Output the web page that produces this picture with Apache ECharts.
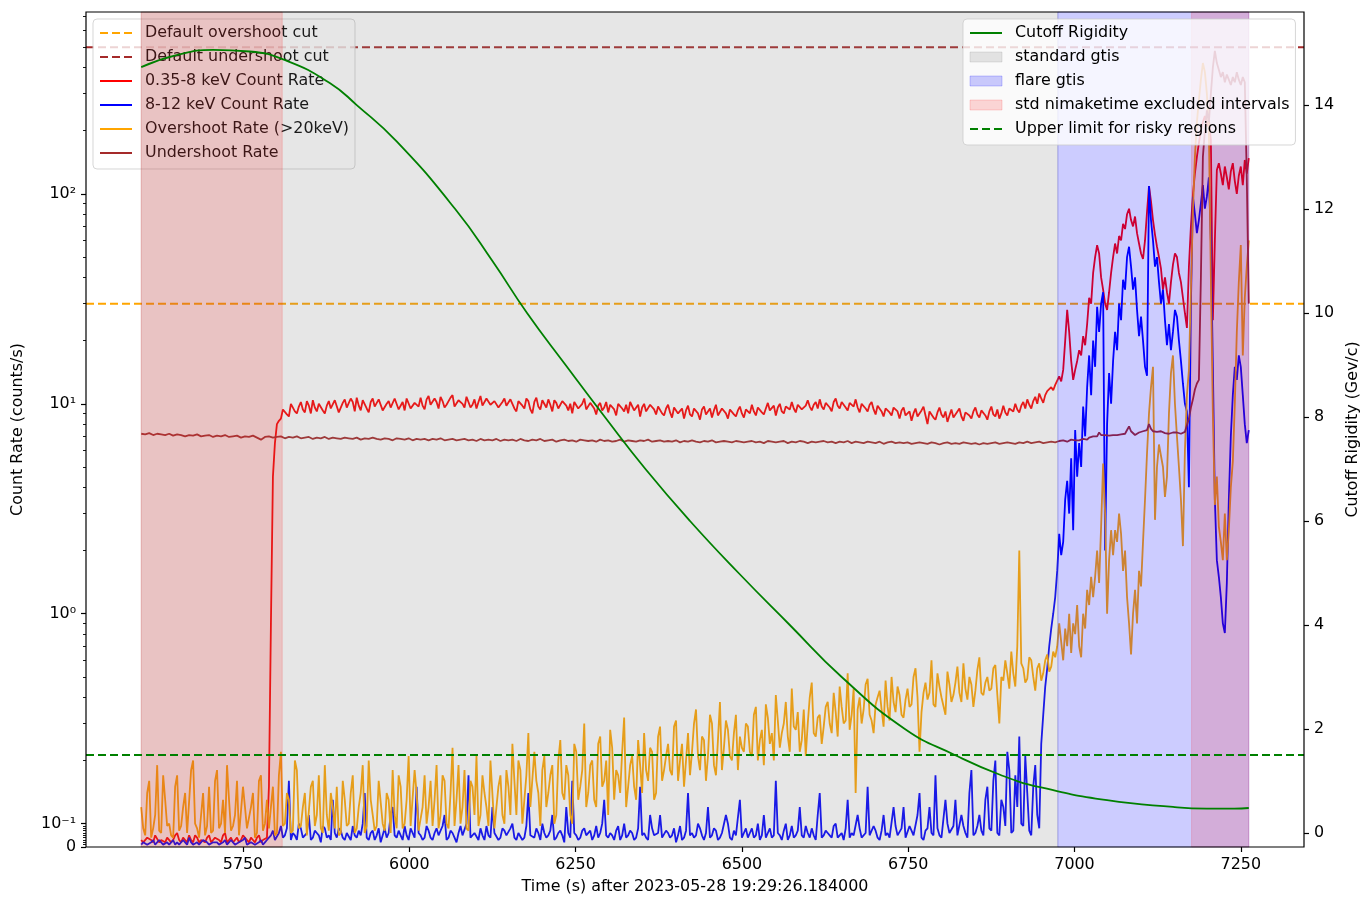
<!DOCTYPE html>
<html>
<head>
<meta charset="utf-8">
<script src="https://cdn.jsdelivr.net/npm/echarts@6/dist/echarts.min.js"></script>
<style>
  html, body { margin: 0; padding: 0; background: #ffffff; }
  #chart { width: 1361px; height: 897px; }
</style>
</head>
<body>
<div id="chart"></div>
<script>
// ---- time grids (seconds after 2023-05-28 19:29:26.184) ----
// quiet stretch: 6 s bins starting at QUIET_T0; the "B" arrays are the bins in between (offset 3 s)
const QUIET_T0 = 5597, QUIET_DT = 6, QUIET_OFFSET = 3;
// flare stretch: 3 s bins
const FLARE_T0 = 6974, FLARE_DT = 3;

// ---- 0.35-8 keV count rate (counts/s) ----
const redQuiet = [
  0.03,0.02,0.04,0.02,0.05,0.03,0.02,0.04,0.03,0.06,0.02,0.03,0.05,0.02,0.04,0.03,0.02,0.05,0.03,0.04,0.02,0.06,0.03,0.02,0.04,0.03,0.05,0.02,0.03,0.04,0.02,0.03,
  0.15,4.5,8.0,
  8.5,9.6,8.7,9.9,9.0,10.2,9.1,9.8,10.4,9.2,10.1,9.0,10.3,9.3,10.2,
  9.3,10.5,9.4,10.2,10.7,9.3,10.3,9.1,10.6,9.5,10.4,9.2,10.3,9.4,10.8,9.6,9.3,10.5,9.5,10.3,
  10.7,9.4,10.9,9.7,10.2,10.8,9.6,10.0,11.0,9.8,10.5,9.6,10.8,9.9,9.5,10.9,9.8,10.5,9.7,10.4,
  9.4,10.6,9.6,10.4,9.2,10.5,9.5,10.3,9.0,10.7,9.4,10.2,10.5,9.2,10.1,9.6,10.4,9.3,9.0,10.3,
  9.3,10.6,9.2,10.2,8.9,10.1,9.6,9.1,10.0,8.8,10.2,9.2,9.0,10.1,9.3,8.7,10.0,9.1,10.1,8.9,
  9.8,8.8,9.9,8.6,9.7,8.9,8.5,9.8,8.7,9.6,8.4,9.7,8.8,8.6,9.9,8.7,9.6,8.5,9.5,8.7,
  9.7,8.6,9.6,9.9,8.8,9.8,8.9,10.1,9.1,8.8,10.0,9.0,9.9,10.2,9.1,10.1,9.2,10.4,9.3,10.2,
  10.5,9.4,10.3,9.2,10.6,9.5,10.4,9.3,10.2,10.5,9.1,10.1,9.2,10.2,8.9,9.9,8.7,9.7,8.8,9.8,
  8.5,9.6,8.7,8.3,9.5,8.6,9.7,8.0,9.3,8.4,9.6,8.6,8.2,9.4,8.5,9.5,8.3,9.3,8.5,9.6,
  8.6,9.5,8.4,9.7,8.7,8.5,9.8,8.8,9.6,10.0,9.1,10.2,10.5,9.5,10.8,11.2,10.1,11.5,12.0,12.3
];
const redQuietB = [
  0.02,0.04,0.03,0.05,0.02,0.03,0.04,0.02,0.05,0.03,0.04,0.02,0.03,0.05,0.02,0.03,0.04,0.02,0.04,0.03,0.05,0.02,0.04,0.03,0.02,0.05,0.03,0.04,0.02,0.05,0.03,0.04,
  0.9,6.5,8.3,
  9.4,8.9,10.0,9.2,9.7,9.4,10.3,9.0,9.6,10.0,9.3,9.8,9.5,10.4,9.1,
  10.1,9.6,10.6,9.2,9.8,10.4,9.5,10.2,9.7,10.5,9.3,10.0,9.6,10.6,9.4,10.2,10.6,9.5,10.1,9.7,
  9.8,10.5,9.9,10.6,9.5,10.3,9.9,10.7,9.7,10.4,10.0,10.8,9.6,10.5,10.2,9.8,10.6,9.9,10.3,9.6,
  10.2,9.8,10.5,9.5,10.3,9.8,10.6,9.4,10.2,9.7,10.4,9.6,9.9,10.4,9.5,10.3,9.8,10.0,10.2,9.5,
  10.0,9.4,10.1,9.5,9.8,9.3,10.2,9.9,9.4,10.0,9.5,9.9,10.2,9.3,9.9,9.6,9.2,9.9,9.4,9.7,
  9.0,9.5,9.1,9.6,9.0,9.5,9.3,8.9,9.5,9.0,9.4,8.9,9.5,9.3,8.8,9.5,9.0,9.4,8.9,9.3,
  9.0,9.4,9.0,9.2,9.6,9.1,9.5,9.3,9.8,9.6,9.2,9.7,9.4,9.5,9.9,9.4,9.8,9.7,9.9,9.5,
  9.7,10.1,9.6,10.2,9.8,10.2,9.6,10.1,9.7,9.6,10.0,9.5,9.9,9.4,9.8,9.2,9.5,9.1,9.6,9.2,
  9.3,8.8,9.2,9.0,8.7,9.3,8.8,9.2,8.6,9.1,8.9,9.2,8.8,8.6,9.2,8.7,9.1,8.8,9.2,8.9,
  9.3,8.8,9.2,8.9,9.4,9.0,9.1,9.5,9.2,9.4,9.8,9.5,9.9,10.3,10.0,10.6,11.0,11.3,11.6
];
const redFlare = [
  12.5,13.5,12.8,14.5,20,28,22,16,13,14.5,
  16,18,17,21,19,24,32,30,42,50,
  57,52,40,35,30,28,34,42,50,58,
  52,63,60,72,68,80,85,75,70,78,
  65,58,52,49,60,82,109,92,75,64,
  56,50,44,35,40,34,30,38,46,52,
  50,42,38,32,27,23,45,70,99,125,
  150,175,200,220,235,210,225,180,25,60,
  130,140,125,110,135,120,105,128,140,115,
  100,122,135,110,145,125,148
];

// ---- 8-12 keV count rate (counts/s) ----
const blueQuiet = [
  0.01,0.02,0.01,0.03,0.01,0.02,0.01,0.01,0.03,0.02,0.01,0.02,0.04,0.01,0.02,0.01,0.03,0.01,0.02,0.02,0.01,0.03,0.01,0.02,0.01,0.02,0.04,0.01,0.02,0.01,0.03,0.02,
  0.04,0.07,0.03,0.09,0.05,0.16,0.06,0.03,0.08,0.05,0.11,0.04,0.06,0.02,0.08,0.05,0.13,0.04,0.07,0.03,
  0.06,0.09,0.04,0.05,0.14,0.03,0.07,0.05,0.02,0.08,0.06,0.12,0.04,0.05,0.09,0.03,0.06,0.15,0.05,0.04,
  0.07,0.03,0.08,0.05,0.11,0.04,0.06,0.02,0.09,0.05,0.17,0.04,0.06,0.08,0.03,0.05,0.12,0.06,0.04,0.07,
  0.05,0.1,0.03,0.06,0.04,0.14,0.05,0.08,0.03,0.06,0.05,0.11,0.04,0.07,0.02,0.06,0.16,0.05,0.04,0.08,
  0.05,0.03,0.09,0.06,0.13,0.04,0.05,0.07,0.03,0.1,0.05,0.06,0.04,0.15,0.06,0.03,0.08,0.05,0.11,0.04,
  0.06,0.05,0.02,0.09,0.04,0.14,0.06,0.05,0.08,0.03,0.12,0.05,0.07,0.04,0.06,0.1,0.03,0.05,0.13,0.06,
  0.04,0.08,0.05,0.03,0.11,0.06,0.04,0.16,0.05,0.07,0.03,0.09,0.05,0.12,0.04,0.06,0.08,0.03,0.14,0.05,
  0.06,0.04,0.1,0.05,0.03,0.13,0.06,0.05,0.08,0.04,0.15,0.05,0.07,0.03,0.11,0.06,0.04,0.09,0.05,0.12,
  0.04,0.07,0.05,0.14,0.03,0.08,0.06,0.17,0.05,0.04,0.1,0.06,0.13,0.05,0.09,0.04,0.18,0.06,0.11,0.05,
  0.15,0.07,0.2,0.05,0.12,0.22,0.06,0.17,0.26,0.09,0.14,0.05,0.19,0.08,0.33,0.55,0.85,1.2
];
const blueQuietB = [
  0.02,0.01,0.02,0.01,0.03,0.01,0.02,0.02,0.01,0.01,0.03,0.01,0.02,0.01,0.01,0.03,0.02,0.01,0.02,0.01,0.02,0.01,0.03,0.01,0.02,0.03,0.01,0.02,0.01,0.02,0.01,0.03,
  0.05,0.03,0.06,0.04,0.08,0.03,0.05,0.1,0.04,0.06,0.03,0.07,0.05,0.09,0.04,0.03,0.06,0.08,0.04,0.06,
  0.03,0.05,0.07,0.1,0.04,0.06,0.03,0.08,0.05,0.04,0.11,0.05,0.07,0.03,0.05,0.08,0.04,0.06,0.03,0.09,
  0.04,0.06,0.05,0.09,0.03,0.07,0.04,0.06,0.05,0.1,0.04,0.06,0.03,0.05,0.09,0.04,0.06,0.03,0.08,0.05,
  0.08,0.04,0.06,0.03,0.09,0.05,0.04,0.06,0.1,0.04,0.07,0.03,0.06,0.05,0.12,0.04,0.06,0.03,0.07,0.05,
  0.07,0.05,0.04,0.1,0.05,0.06,0.03,0.09,0.05,0.04,0.07,0.03,0.08,0.05,0.04,0.11,0.05,0.06,0.04,0.07,
  0.04,0.08,0.05,0.03,0.07,0.05,0.04,0.1,0.05,0.06,0.04,0.08,0.03,0.06,0.11,0.04,0.07,0.05,0.04,0.08,
  0.06,0.04,0.1,0.05,0.04,0.08,0.05,0.06,0.03,0.1,0.05,0.04,0.07,0.05,0.09,0.04,0.05,0.11,0.04,0.07,
  0.05,0.09,0.04,0.06,0.08,0.04,0.05,0.11,0.04,0.06,0.05,0.09,0.04,0.07,0.05,0.04,0.12,0.05,0.08,0.04,
  0.09,0.05,0.11,0.04,0.07,0.12,0.05,0.08,0.04,0.13,0.06,0.09,0.05,0.11,0.06,0.14,0.05,0.09,0.07,0.13,
  0.08,0.16,0.06,0.13,0.09,0.18,0.07,0.12,0.1,0.21,0.07,0.15,0.11,0.24,0.45,0.7,1.0
];
const blueFlare = [
  1.6,2.4,1.9,2.2,3.5,4.3,3.0,5.5,2.5,7.5,
  4.5,6.5,5.0,9.7,7.0,12,17,11,20,15,
  29,22,30,34,2.0,8,14,10,16,22,
  18,30,25,39,35,50,56,45,35,40,
  28,21,26,20,15,13.6,109,75,60,45,
  50,38,30,35,25,19,24,18,22,28,
  26,20,16,12.5,10,9.2,4,30,97,80,
  65,75,90,110,85,97,120,60,15,3.5,
  1.8,1.5,1.2,0.9,0.81,1.4,3.5,7,11,15,
  13,17,15,11,8,6.5,7.5
];

// ---- overshoot rate >20 keV (counts/s) ----
const orangeQuiet = [
  0.12,0.05,0.16,0.08,0.19,0.06,0.13,0.1,0.04,0.17,0.09,0.14,0.06,0.2,0.08,0.11,0.05,0.15,0.07,0.18,0.1,0.06,0.13,0.09,0.16,0.05,0.12,0.08,0.14,0.06,0.17,0.1,
  0.08,0.15,0.06,0.22,0.1,0.13,0.07,0.18,0.09,0.14,0.05,0.16,0.11,0.08,0.19,0.07,0.12,0.15,0.06,0.13,
  0.1,0.17,0.08,0.14,0.06,0.2,0.11,0.09,0.16,0.07,0.13,0.18,0.08,0.15,0.1,0.21,0.09,0.14,0.07,0.17,
  0.12,0.09,0.19,0.11,0.16,0.08,0.23,0.13,0.1,0.18,0.07,0.15,0.21,0.11,0.14,0.09,0.2,0.12,0.17,0.1,
  0.15,0.24,0.11,0.18,0.13,0.27,0.12,0.16,0.09,0.21,0.14,0.19,0.11,0.25,0.13,0.17,0.1,0.22,0.15,0.3,
  0.14,0.2,0.12,0.26,0.16,0.11,0.23,0.18,0.14,0.32,0.15,0.21,0.13,0.19,0.27,0.16,0.22,0.14,0.29,0.18,
  0.24,0.17,0.31,0.2,0.15,0.27,0.22,0.35,0.18,0.25,0.21,0.3,0.17,0.38,0.23,0.28,0.2,0.33,0.26,0.22,
  0.29,0.21,0.36,0.25,0.19,0.32,0.27,0.41,0.23,0.3,0.26,0.44,0.28,0.22,0.35,0.3,0.47,0.26,0.33,0.29,
  0.38,0.27,0.34,0.45,0.3,0.52,0.33,0.14,0.4,0.35,0.49,0.31,0.37,0.43,0.29,0.36,0.5,0.34,0.41,0.32,
  0.44,0.37,0.55,0.22,0.42,0.39,0.6,0.36,0.45,0.4,0.53,0.38,0.47,0.42,0.58,0.39,0.46,0.43,0.62,0.41,
  0.5,0.44,0.57,0.3,0.48,0.52,0.66,0.45,2.0,0.55,0.49,0.6,0.43,0.58,0.52,0.64,0.56,0.62
];
const orangeQuietB = [
  0.08,0.14,0.04,0.11,0.07,0.17,0.09,0.05,0.15,0.07,0.12,0.06,0.18,0.1,0.04,0.14,0.09,0.06,0.16,0.08,0.13,0.19,0.07,0.11,0.05,0.15,0.08,0.12,0.04,0.16,0.07,0.13,
  0.12,0.05,0.17,0.09,0.14,0.06,0.2,0.08,0.12,0.05,0.15,0.09,0.17,0.06,0.11,0.14,0.08,0.05,0.16,0.09,
  0.14,0.06,0.12,0.19,0.09,0.13,0.07,0.16,0.1,0.14,0.06,0.11,0.17,0.08,0.13,0.09,0.18,0.07,0.12,0.1,
  0.16,0.13,0.08,0.17,0.1,0.14,0.09,0.19,0.12,0.08,0.16,0.11,0.09,0.17,0.12,0.2,0.08,0.15,0.11,0.18,
  0.11,0.16,0.2,0.1,0.17,0.12,0.22,0.14,0.18,0.12,0.17,0.1,0.2,0.14,0.19,0.11,0.24,0.13,0.18,0.12,
  0.19,0.13,0.24,0.15,0.2,0.28,0.13,0.17,0.22,0.12,0.19,0.15,0.25,0.14,0.18,0.23,0.13,0.26,0.16,0.21,
  0.18,0.29,0.16,0.24,0.2,0.17,0.3,0.21,0.26,0.16,0.33,0.19,0.25,0.18,0.31,0.21,0.27,0.18,0.23,0.3,
  0.22,0.33,0.2,0.28,0.37,0.24,0.2,0.31,0.27,0.38,0.22,0.29,0.34,0.25,0.21,0.4,0.27,0.32,0.24,0.36,
  0.3,0.42,0.26,0.36,0.31,0.28,0.44,0.35,0.3,0.46,0.33,0.27,0.4,0.35,0.48,0.31,0.38,0.45,0.33,0.39,
  0.36,0.5,0.4,0.34,0.47,0.42,0.37,0.52,0.4,0.33,0.46,0.41,0.56,0.38,0.44,0.5,0.36,0.54,0.42,0.47,
  0.43,0.55,0.41,0.5,0.6,0.44,0.52,0.7,0.58,0.47,0.62,0.5,0.55,0.48,0.6,0.53,0.66
];
const orangeFlare = [
  0.7,0.9,0.91,0.6,0.85,0.7,1.0,0.65,0.9,0.8,
  1.1,0.7,0.62,1.0,0.85,1.3,1.1,1.5,1.2,1.5,
  2.0,1.4,2.6,5.2,3.0,1.0,1.8,2.5,1.9,2.5,
  2.2,3.0,2.4,1.6,2.0,1.2,0.9,0.64,1.0,1.3,
  0.9,1.6,1.35,2.2,3.5,5.8,9,12,15,2.8,
  5,6.4,6.4,5,3.6,4.5,9,14,17,10,
  7,5,3.5,2.1,6,11,14.5,35,83,150,
  220,280,350,420,380,300,200,40,9,3.3,
  4.5,2.6,2.2,1.8,3.0,1.8,2.5,4.0,5.3,10,
  22,38,57,17,32,45,60
];

// ---- undershoot rate (counts/s) ----
const brownQuiet = [
  7.2,7.15,7.25,7.1,7.2,7.15,7.1,7.2,7.05,7.15,7.1,7.0,7.1,7.05,7.15,7.0,7.05,7.1,6.95,7.05,7.0,7.1,6.95,7.0,7.05,6.9,7.0,6.95,7.05,6.9,6.75,6.95,
  7.0,6.9,6.95,7.0,6.85,6.95,6.9,7.0,6.85,6.9,6.95,6.8,6.9,6.85,6.95,6.8,6.9,6.85,6.8,6.9,
  6.85,6.8,6.9,6.75,6.85,6.8,6.9,6.8,6.75,6.85,6.8,6.7,6.85,6.8,6.75,6.85,6.7,6.8,6.75,6.8,
  6.7,6.8,6.75,6.85,6.7,6.75,6.8,6.7,6.75,6.8,6.7,6.75,6.65,6.8,6.7,6.75,6.7,6.8,6.65,6.75,
  6.7,6.75,6.65,6.8,6.7,6.65,6.75,6.7,6.8,6.65,6.7,6.75,6.6,6.7,6.75,6.65,6.7,6.6,6.75,6.7,
  6.65,6.7,6.6,6.75,6.65,6.7,6.6,6.65,6.75,6.6,6.7,6.65,6.6,6.7,6.65,6.75,6.6,6.65,6.7,6.6,
  6.65,6.6,6.7,6.55,6.65,6.6,6.7,6.6,6.55,6.65,6.6,6.7,6.55,6.6,6.65,6.6,6.55,6.65,6.6,6.55,
  6.6,6.65,6.55,6.6,6.5,6.65,6.6,6.55,6.6,6.65,6.5,6.6,6.55,6.65,6.6,6.5,6.6,6.55,6.6,6.65,
  6.55,6.6,6.5,6.6,6.55,6.65,6.5,6.6,6.55,6.5,6.6,6.55,6.5,6.6,6.45,6.55,6.6,6.5,6.55,6.5,
  6.55,6.45,6.5,6.55,6.5,6.45,6.55,6.5,6.4,6.5,6.55,6.45,6.5,6.45,6.55,6.5,6.45,6.5,6.4,6.5,
  6.45,6.5,6.55,6.45,6.5,6.55,6.5,6.45,6.55,6.5,6.6,6.5,6.55,6.6,6.5,6.55,6.6,6.55
];
const brownFlare = [
  6.6,6.65,6.6,6.7,6.65,6.6,6.7,6.75,6.65,6.7,
  6.8,6.7,6.75,6.8,6.85,6.75,6.9,6.8,7.0,6.9,
  7.0,7.3,7.1,7.0,7.1,7.0,7.05,7.15,7.1,7.2,
  7.1,7.25,7.15,7.3,7.2,7.5,7.8,7.4,7.3,7.1,
  7.2,7.3,7.25,7.4,7.3,7.5,8.0,7.6,7.4,7.5,
  7.35,7.3,7.4,7.3,7.25,7.3,7.2,7.25,7.3,7.2,
  7.3,7.25,7.2,7.3,7.35,7.5,8.5,9.6,10.5,11.7,
  12.5,13,40,150,200,250,220,300,400,480,
  420,390,360,380,340,370,350,330,360,340,
  380,350,330,360,340,120,30
];

// ---- cutoff rigidity (GeV/c) ----
const rigidityTime  = [5597, 5650, 5705, 5760, 5816, 5881, 5921, 5981, 6069, 6125, 6177, 6235, 6294, 6355, 6422, 6495, 6572, 6650, 6745, 6820, 6888, 6948, 7049, 7148, 7199, 7240, 7262];
const rigidityValue = [14.73, 14.96, 15.06, 15.03, 14.85, 14.42, 14.0, 13.3, 12.0, 11.0, 10.0, 9.0, 8.0, 7.0, 6.0, 5.0, 4.0, 3.0, 2.0, 1.5, 1.12, 0.88, 0.63, 0.5, 0.47, 0.47, 0.48];

// ---- thresholds ----
const OVERSHOOT_CUT = 30;
const UNDERSHOOT_CUT = 500;
const RISKY_LIMIT = 1.5;

// ---- time intervals ----
const standardGti = [[5597, 6975]];
const flareGti = [[6975, 7262]];
const excludedIntervals = [[5597, 5809], [7176, 7262]];

// ---- axes ----
const X_MIN = 5514, X_MAX = 7345;
const X_TICKS = [5750, 6000, 6250, 6500, 6750, 7000, 7250];
const COUNT_MAX = 735;
const Y_TICKS = [0, 0.1, 1, 10, 100];
const Y_TICK_LABELS = ['0', '10\u207B\u00B9', '10\u2070', '10\u00B9', '10\u00B2'];
const Y_MINOR = [0.01, 0.02, 0.03, 0.04, 0.05, 0.06, 0.07, 0.08, 0.09,
                 0.2, 0.3, 0.4, 0.5, 0.6, 0.7, 0.8, 0.9,
                 2, 3, 4, 5, 6, 7, 8, 9,
                 20, 30, 40, 50, 60, 70, 80, 90,
                 200, 300, 400, 500, 600, 700];
const RIG_MIN = -0.27, RIG_MAX = 15.79;
const RIG_TICKS = [0, 2, 4, 6, 8, 10, 12, 14];

// symmetric-log mapping: linear below 0.1, logarithmic above (linscale 0.1)
const LIN_THRESH = 0.1;
const LIN_SPAN = 0.1 / (1 - 1 / 10);
function symlog(v) {
  return v <= LIN_THRESH ? (v / LIN_THRESH) * LIN_SPAN : LIN_SPAN + Math.log10(v / LIN_THRESH);
}

// assemble [time, value] pairs: quiet bins (with optional in-between bins), then flare bins
function rateSeries(quiet, quietB, flare) {
  const pts = [];
  quiet.forEach((v, i) => {
    pts.push([QUIET_T0 + i * QUIET_DT, v]);
    if (quietB && i < quietB.length) pts.push([QUIET_T0 + QUIET_OFFSET + i * QUIET_DT, quietB[i]]);
  });
  flare.forEach((v, j) => pts.push([FLARE_T0 + j * FLARE_DT, v]));
  return pts.map(([t, v]) => [t, symlog(v)]);
}

const FONT = 'DejaVu Sans';
const FS = 15.9;
const Y_TICK_POS = Y_TICKS.map(symlog);

const GRAY = 'rgba(128,128,128,0.2)';
const BLUE = 'rgba(0,0,255,0.2)';
const PINK = 'rgba(255,0,0,0.15)';

function lineSeries(name, data, color, z, yAxisIndex, dashed) {
  return {
    name, type: 'line', data, yAxisIndex,
    symbol: 'none', showSymbol: false, silent: true, z,
    color,
    lineStyle: { color, width: dashed ? 2 : 1.8, type: dashed ? [8, 4] : 'solid' },
    itemStyle: { color },
    emphasis: { disabled: true }
  };
}
function spanSeries(name, intervals, color) {
  return {
    name, type: 'line', data: [], yAxisIndex: 1, silent: true, color,
    itemStyle: { color },
    markArea: {
      silent: true, z: 4,
      itemStyle: { color, borderColor: color, borderWidth: 1 },
      data: intervals.map(([a, b]) => [{ xAxis: a }, { xAxis: b }])
    }
  };
}

const legendCommon = {
  orient: 'vertical',
  selectedMode: false,
  itemWidth: 32, itemHeight: 10, itemGap: 8,
  padding: [6, 6, 8, 6],
  backgroundColor: 'rgba(255,255,255,0.8)',
  borderColor: 'rgba(204,204,204,0.8)',
  borderWidth: 1,
  borderRadius: 4,
  textStyle: { fontFamily: FONT, fontSize: FS, color: '#000', lineHeight: 16, padding: [0, 0, 0, 8] }
};
const lineItem = name => ({ name, itemStyle: { opacity: 0 } });
const patchItem = (name, color) => ({ name, icon: 'rect', itemStyle: { color, borderColor: color, borderWidth: 1, opacity: 1 } });

const axisText = { fontFamily: FONT, fontSize: FS, color: '#000' };
const majorTick = values => ({ show: true, length: 5, lineStyle: { color: '#000', width: 1.2 }, customValues: values });

const option = {
  animation: false,
  backgroundColor: '#ffffff',
  textStyle: { fontFamily: FONT, color: '#000' },
  grid: {
    left: 86, right: 57, top: 12, bottom: 50,
    outerBoundsMode: 'none', containLabel: false,
    show: true, borderColor: '#000', borderWidth: 1.2, backgroundColor: 'transparent', z: 8
  },
  legend: [
    Object.assign({}, legendCommon, {
      left: 93, top: 19, z: 3,
      data: ['Default overshoot cut', 'Default undershoot cut', '0.35-8 keV Count Rate', '8-12 keV Count Rate', 'Overshoot Rate (>20keV)', 'Undershoot Rate'].map(lineItem)
    }),
    Object.assign({}, legendCommon, {
      left: 963, top: 19, z: 6,
      data: [
        lineItem('Cutoff Rigidity'),
        patchItem('standard gtis', GRAY),
        patchItem('flare gtis', BLUE),
        patchItem('std nimaketime excluded intervals', PINK),
        lineItem('Upper limit for risky regions')
      ]
    })
  ],
  xAxis: {
    type: 'value', min: X_MIN, max: X_MAX,
    name: 'Time (s) after 2023-05-28 19:29:26.184000',
    nameLocation: 'middle', nameGap: 32, nameTextStyle: axisText,
    axisLine: { show: false, onZero: false },
    axisTick: majorTick(X_TICKS),
    axisLabel: Object.assign({ margin: 10, customValues: X_TICKS, formatter: v => String(v) }, axisText),
    splitLine: { show: false }
  },
  yAxis: [
    {
      type: 'value', position: 'left', min: 0, max: symlog(COUNT_MAX),
      name: 'Count Rate (counts/s)', nameLocation: 'middle', nameRotate: 90, nameGap: 60,
      nameTextStyle: axisText,
      axisLine: { show: false, onZero: false },
      axisTick: majorTick(Y_TICK_POS),
      axisLabel: Object.assign({
        margin: 10, customValues: Y_TICK_POS,
        formatter: v => {
          const k = Y_TICK_POS.findIndex(p => Math.abs(p - v) < 1e-6);
          return k >= 0 ? Y_TICK_LABELS[k] : '';
        }
      }, axisText),
      splitLine: { show: false }
    },
    {
      type: 'value', position: 'right', min: RIG_MIN, max: RIG_MAX,
      name: 'Cutoff Rigidity (Gev/c)', nameLocation: 'middle', nameRotate: 90, nameGap: 29,
      nameTextStyle: axisText,
      axisLine: { show: false, onZero: false },
      axisTick: majorTick(RIG_TICKS),
      axisLabel: Object.assign({ margin: 10, customValues: RIG_TICKS, formatter: v => String(v) }, axisText),
      splitLine: { show: false }
    },
    {
      type: 'value', position: 'left', offset: 0, min: 0, max: symlog(COUNT_MAX),
      axisLine: { show: false, onZero: false },
      axisTick: { show: true, length: 3, lineStyle: { color: '#000', width: 0.9 }, customValues: Y_MINOR.map(symlog) },
      axisLabel: { show: false },
      splitLine: { show: false }
    }
  ],
  series: [
    lineSeries('Default overshoot cut', [[X_MIN, symlog(OVERSHOOT_CUT)], [X_MAX, symlog(OVERSHOOT_CUT)]], '#ffa500', 1, 0, true),
    lineSeries('Default undershoot cut', [[X_MIN, symlog(UNDERSHOOT_CUT)], [X_MAX, symlog(UNDERSHOOT_CUT)]], '#a52a2a', 1, 0, true),
    lineSeries('0.35-8 keV Count Rate', rateSeries(redQuiet, redQuietB, redFlare), '#ff0000', 2, 0, false),
    lineSeries('8-12 keV Count Rate', rateSeries(blueQuiet, blueQuietB, blueFlare), '#0000ff', 2, 0, false),
    lineSeries('Overshoot Rate (>20keV)', rateSeries(orangeQuiet, orangeQuietB, orangeFlare), '#ffa500', 2, 0, false),
    lineSeries('Undershoot Rate', rateSeries(brownQuiet, null, brownFlare), '#a52a2a', 2, 0, false),
    spanSeries('standard gtis', standardGti, GRAY),
    spanSeries('flare gtis', flareGti, BLUE),
    spanSeries('std nimaketime excluded intervals', excludedIntervals, PINK),
    Object.assign(lineSeries('Cutoff Rigidity', rigidityTime.map((t, i) => [t, rigidityValue[i]]), '#008000', 5, 1, false), { smooth: true }),
    lineSeries('Upper limit for risky regions', [[X_MIN, RISKY_LIMIT], [X_MAX, RISKY_LIMIT]], '#008000', 5, 1, true)
  ]
};

const chart = echarts.init(document.getElementById('chart'), null, { renderer: 'canvas' });
chart.setOption(option);
</script>
</body>
</html>
